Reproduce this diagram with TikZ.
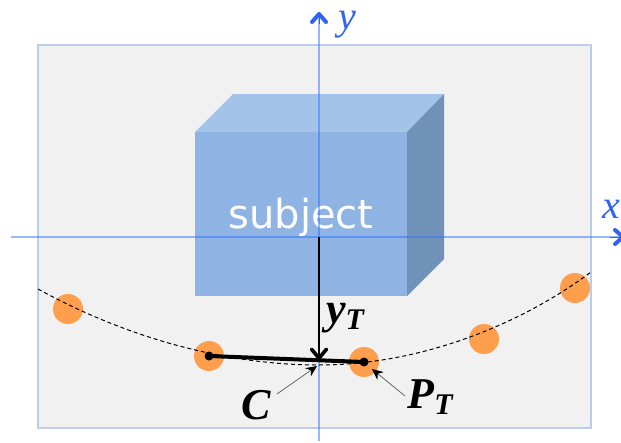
\documentclass[tikz,border=0pt]{standalone}
\usepackage{fontspec}
\setmainfont{Liberation Serif}
\newfontfamily\subjectfont{DejaVu Sans}
\usetikzlibrary{arrows.meta}
\definecolor{axisblue}{HTML}{2F62F5}
\definecolor{axisline}{HTML}{2F72FF}
\definecolor{frameblue}{HTML}{BCCDE9}
\definecolor{panelgray}{HTML}{F1F1F1}
\definecolor{cubefront}{HTML}{8FB3E3}
\definecolor{cubetop}{HTML}{A4C3E9}
\definecolor{cubeside}{HTML}{7092B8}
\definecolor{orangedot}{HTML}{FF9E4D}
\tikzstyle{axis} = [
    draw=axisline,
    draw opacity=0.5,
    line width=1.2pt
]
\tikzstyle{axistip} = [
    draw=axisblue,
    line width=0.1pt,
    -{Straight Barb[round,length=8pt,width=14pt,line width=4pt]}
]
\tikzstyle{axislabel} = [
    inner sep=0pt,
    text=axisblue,
    font=\fontsize{40}{40}\selectfont\itshape
]
\tikzstyle{sensor} = [
    circle,
    fill=orangedot,
    minimum size=30pt,
    inner sep=0pt
]
\tikzstyle{dot} = [
    circle,
    fill=black,
    minimum size=9pt,
    inner sep=0pt
]
\tikzstyle{mathlabel} = [
    inner sep=0pt,
    font=\fontsize{44}{44}\selectfont\bfseries\itshape
]
\tikzstyle{pointer} = [
    draw=black!60,
    line width=0.8pt,
    -{Stealth[length=11pt,width=10pt,color=black]}
]
\newcommand{\sublabel}[2]{#1\raisebox{-6pt}{\fontsize{30}{30}\selectfont #2}}
\begin{document}
\begin{tikzpicture}[x=1pt, y=-1pt]

\useasboundingbox (0,0) rectangle (621,442);
\clip (0,0) rectangle (621,442);

\draw [draw=frameblue, line width=1.3pt, fill=panelgray] (38,45) rectangle (591,428);

% cube
\fill [cubefront] (195,132) rectangle (407,296);
\fill [cubetop] (195,132) -- (233,94) -- (444,94) -- (407,132) -- cycle;
\fill [cubeside] (407,132) -- (444,94) -- (444,259) -- (407,296) -- cycle;
\node (subject) [text=white, font=\fontsize{40}{40}\subjectfont] at (301,217) {subject};

% axes
\coordinate (xstart) at (11,237);
\coordinate (xend) at (621,237);
\coordinate (xtipstart) at (610,237);
\coordinate (xtip) at (625,237);
\coordinate (ystart) at (319,441);
\coordinate (yend) at (319,12);
\coordinate (ytipstart) at (319,24);
\coordinate (origin) at (319,237);
\draw [axis] (xstart) -- (xend);
\draw [axis] (ystart) -- (yend);
\draw [axistip] (xtipstart) -- (xtip);
\draw [axistip] (ytipstart) -- (yend);
\node (xlabel) [axislabel] at (611,209) {x};
\node (ylabel) [axislabel] at (347,25) {y};

% trajectory
\coordinate (arcstart) at (38,289);
\coordinate (arcmid) at (319,365);
\coordinate (arcend) at (591,272);
\node (s1) [sensor] at (68,309) {};
\node (s2) [sensor] at (209,356) {};
\node (s3) [sensor] at (364,362) {};
\node (s4) [sensor] at (484,339) {};
\node (s5) [sensor] at (575,288) {};
\draw [line width=1pt, dash pattern=on 4pt off 3pt] (arcstart) .. controls (140,345) and (240,365) .. (arcmid)
    .. controls (420,365) and (520,325) .. (arcend);

\node (d2) [dot] at (s2) {};
\node (d3) [dot] at (s3) {};
\draw [line width=4pt] (d2.center) -- (d3.center);

\coordinate (center) at (319,360);
\draw [line width=2pt, -{Straight Barb[round,length=9pt,width=15pt,line width=3.6pt]}] (origin) -- (center);

% labels
\node (yt) [mathlabel] at (345,318) {\sublabel{y}{T}};
\node (c) [mathlabel] at (256,405) {C};
\node (pt) [mathlabel] at (430,397) {\sublabel{P}{T}};
\coordinate (cfrom) at (277,394);
\coordinate (cto) at (317,366);
\coordinate (ptfrom) at (405,396);
\coordinate (ptto) at (372,369);
\draw [pointer] (cfrom) -- (cto);
\draw [pointer] (ptfrom) -- (ptto);

\end{tikzpicture}
\end{document}
